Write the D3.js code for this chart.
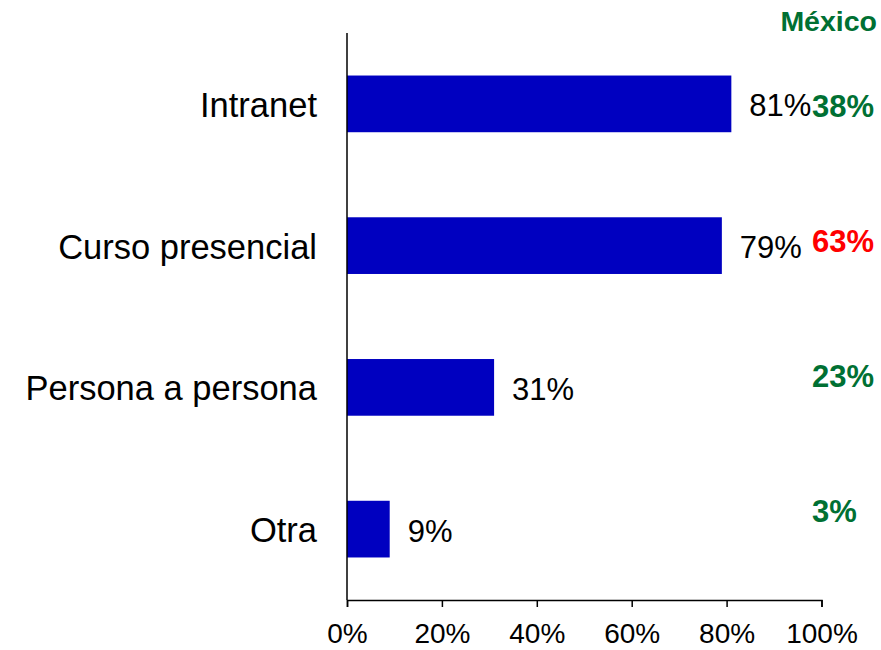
<!DOCTYPE html>
<html>
<head>
<meta charset="utf-8">
<script src="https://cdn.jsdelivr.net/npm/d3@7"></script>
<style>
  body { margin: 0; background: #fff; }
  svg text { font-family: "Liberation Sans", Arial, sans-serif; }
</style>
</head>
<body>
<div id="chart"></div>
<script>
   // chart values
   var categories = ["Intranet", "Curso presencial", "Persona a persona", "Otra"];
   var values = [81, 79, 31, 9];
   var mexicoValues = [38, 63, 23, 3];
   var mexicoTitle = "México";
   var highlightCategory = "Curso presencial";
   var xTicks = [0, 20, 40, 60, 80, 100];

   var width = 881, height = 650;
   var green = "#007033";

   var svg = d3.select("#chart").append("svg")
      .attr("width", width)
      .attr("height", height);

   var x = d3.scaleLinear().domain([0, 100]).range([347, 821.5]);

   var y = d3.scaleBand()
      .domain(categories)
      .range([33, 600])
      .paddingInner(0.6)
      .paddingOuter(0.3);

   // the México column sits on its own spacing
   var yMex = d3.scalePoint()
      .domain(categories)
      .range([117, 522]);

   // bars
   svg.selectAll("rect.bar")
      .data(categories)
      .enter()
      .append("rect")
      .attr("class", "bar")
      .attr("x", x(0))
      .attr("y", function(d) { return y(d); })
      .attr("width", function(d, i) { return x(values[i]) - x(0); })
      .attr("height", y.bandwidth())
      .style("fill", "#0000C0");

   // bottom axis
   var xAxis = d3.axisBottom(x)
      .tickValues(xTicks)
      .tickSize(7)
      .tickSizeOuter(7)
      .tickFormat(function(d) { return d + "%"; });

   var gx = svg.append("g")
      .attr("transform", "translate(0,600)")
      .call(xAxis);
   gx.select(".domain").attr("stroke", "#000").attr("stroke-width", 1.5);
   gx.selectAll(".tick line").attr("stroke", "#000").attr("stroke-width", 1.5);
   gx.selectAll(".tick text")
      .attr("y", 0)
      .attr("dy", 0)
      .attr("transform", "translate(0,43)")
      .style("font-size", "28px")
      .style("font-family", "'Liberation Sans', Arial, sans-serif")
      .attr("fill", "#000");

   // vertical axis line
   svg.append("line")
      .attr("x1", x(0)).attr("x2", x(0))
      .attr("y1", y.range()[0]).attr("y2", y.range()[1])
      .attr("stroke", "#000")
      .attr("stroke-width", 1.5);

   // category labels
   svg.selectAll("text.cat")
      .data(categories)
      .enter()
      .append("text")
      .attr("class", "cat")
      .attr("x", 317)
      .attr("y", function(d) { return y(d) + y.bandwidth() / 2 + 13; })
      .attr("text-anchor", "end")
      .style("font-size", "34.5px")
      .text(function(d) { return d; });

   // value labels
   svg.selectAll("text.val")
      .data(categories)
      .enter()
      .append("text")
      .attr("class", "val")
      .attr("x", function(d, i) { return x(values[i]) + 18; })
      .attr("y", function(d) { return y(d) + y.bandwidth() / 2 + 12.5; })
      .style("font-size", "31px")
      .text(function(d, i) { return values[i] + "%"; });

   // México column
   svg.append("text")
      .attr("x", 877)
      .attr("y", 31)
      .attr("text-anchor", "end")
      .style("font-size", "28.5px")
      .style("font-weight", "bold")
      .attr("fill", green)
      .text(mexicoTitle);

   svg.selectAll("text.mex")
      .data(categories)
      .enter()
      .append("text")
      .attr("class", "mex")
      .attr("x", 812)
      .attr("y", function(d) { return yMex(d); })
      .style("font-size", "31px")
      .style("font-weight", "bold")
      .attr("fill", function(d) { return d == highlightCategory ? "#FF0000" : green; })
      .text(function(d, i) { return mexicoValues[i] + "%"; });
</script>
</body>
</html>
